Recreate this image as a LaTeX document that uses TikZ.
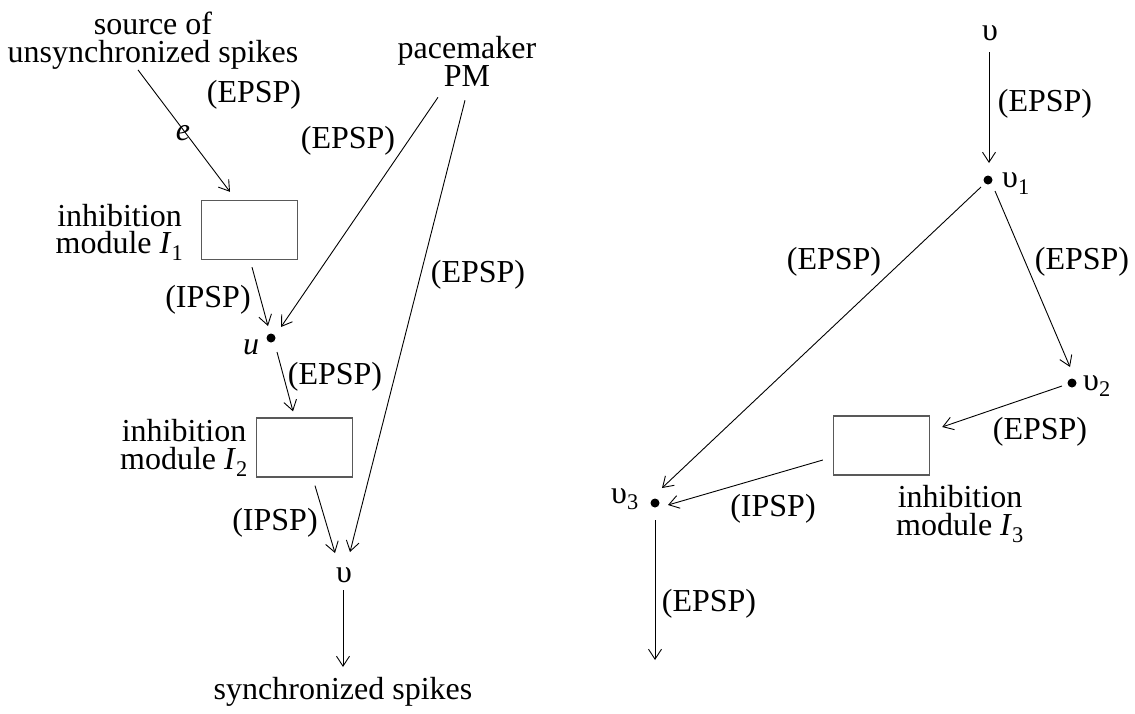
\documentclass[tikz,border=0pt]{standalone}
\usepackage{fontspec}
\setmainfont{Liberation Serif}
\usetikzlibrary{arrows.meta,calc}
\begin{document}
\begin{tikzpicture}[x=1pt,y=-1pt,
  every node/.style={font=\fontsize{32}{28}\selectfont, inner sep=0pt},
  modbox/.style={draw=black!65, line width=1.3pt, minimum width=96pt, minimum height=59pt, inner sep=0pt},
  dotnode/.style={circle, fill=black, minimum size=9pt, inner sep=0pt},
  arr/.style={-{Straight Barb[length=10pt,width=13pt]}, line width=0.9pt},
  txt/.style={align=center}]
\useasboundingbox (0,0) rectangle (1135,713);

% ---------- left diagram ----------
\node[txt] (src) at (153,41) {source of\\unsynchronized spikes};
\node[txt] (pm) at (467,61) {pacemaker\\PM};
\node[modbox] (I1) at (249.5,230) {};
\node[txt] (I1l) at (119.5,232) {inhibition\\module \textit{I}\textsubscript{1}};
\node[dotnode] (u) at (271,338) {};
\node (ul) at (251,347) {\textit{u}};
\node[modbox] (I2) at (304.5,447.5) {};
\node[txt] (I2l) at (184,448) {inhibition\\module \textit{I}\textsubscript{2}};
\node (v) at (344,575) {υ};
\node (sync) at (343,692) {synchronized spikes};
\node (e) at (183,133) {\textit{e}};

\node (l1) at (254,95) {(EPSP)};
\node (l2) at (348,141) {(EPSP)};
\node (l3) at (478,275) {(EPSP)};
\node (l4) at (208,300) {(IPSP)};
\node (l5) at (335,377) {(EPSP)};
\node (l6) at (275,523) {(IPSP)};

\draw[arr] ($(src.south)+(-15,0)$) -- ($(I1.north)+(-19.5,-8)$);
\draw[arr] ($(pm.south)+(-29,11)$) -- ($(u.center)+(10,-11)$);
\draw[arr] ($(pm.south)+(-2,14)$) -- ($(v.center)+(6,-23)$);
\draw[arr] ($(I1.south)+(2.5,7)$) -- ($(u.center)+(-3,-12)$);
\draw[arr] ($(u.center)+(6,14)$) -- ($(I2.north)+(-11.5,-6)$);
\draw[arr] ($(I2.south)+(10.5,8)$) -- ($(v.center)+(-9,-22)$);
\draw[arr] ($(v.center)+(-1,15)$) -- ($(sync.center)+(0,-25)$);

% ---------- right diagram ----------
\node (vt) at (990,33) {υ};
\node[dotnode] (v1) at (988,180) {};
\node (v1l) at (1016,183.5) {υ\textsubscript{1}};
\node[dotnode] (v2) at (1072,383) {};
\node (v2l) at (1097,386) {υ\textsubscript{2}};
\node[dotnode] (v3) at (655,503) {};
\node (v3l) at (625,499) {υ\textsubscript{3}};
\node[modbox] (I3) at (881.5,445.5) {};
\node[txt] (I3l) at (960,514) {inhibition\\module \textit{I}\textsubscript{3}};
\coordinate (vend) at (655,660);

\node (r1) at (1045,104) {(EPSP)};
\node (r2) at (834,262) {(EPSP)};
\node (r3) at (1082,262) {(EPSP)};
\node (r4) at (1040,432) {(EPSP)};
\node (r5) at (773,509) {(IPSP)};
\node (r6) at (709,604) {(EPSP)};

\draw[arr] ($(vt.center)+(-1,19)$) -- ($(v1.center)+(1,-17)$);
\draw[arr] ($(v1.center)+(-7,7)$) -- ($(v3.center)+(7,-15)$);
\draw[arr] ($(v1.center)+(7,11)$) -- ($(v2.center)+(-2,-16)$);
\draw[arr] ($(v2.center)+(-10,3)$) -- ($(I3.east)+(12,-18.5)$);
\draw[arr] ($(I3.west)+(-10,14.5)$) -- ($(v3.center)+(13,2)$);
\draw[arr] ($(v3.center)+(0,17)$) -- (vend);
\end{tikzpicture}
\end{document}
